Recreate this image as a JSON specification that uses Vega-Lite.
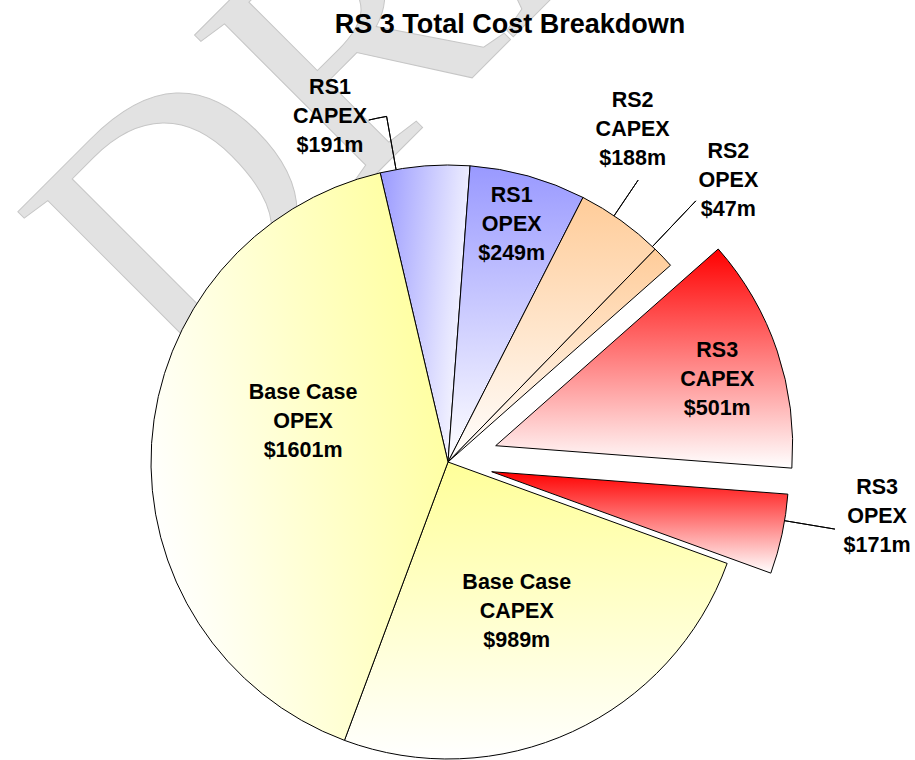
{
  "$schema": "https://vega.github.io/schema/vega-lite/v6.json",
  "width": 896,
  "height": 596,
  "autosize": {"type": "none"},
  "padding": {"left": 0, "top": 164, "right": 19, "bottom": 0},
  "background": "white",
  "config": {"view": {"stroke": null}},
  "data": {
    "values": [
      {"order": 1, "category": "RS1 CAPEX", "value": 191, "label": "RS1\nCAPEX\n$191m"},
      {"order": 2, "category": "RS1 OPEX", "value": 249, "label": "RS1\nOPEX\n$249m"},
      {"order": 3, "category": "RS2 CAPEX", "value": 188, "label": "RS2\nCAPEX\n$188m"},
      {"order": 4, "category": "RS2 OPEX", "value": 47, "label": "RS2\nOPEX\n$47m"},
      {"order": 5, "category": "RS3 CAPEX", "value": 501, "label": "RS3\nCAPEX\n$501m"},
      {"order": 6, "category": "RS3 OPEX", "value": 171, "label": "RS3\nOPEX\n$171m"},
      {"order": 7, "category": "Base Case CAPEX", "value": 989, "label": "Base Case\nCAPEX\n$989m"},
      {"order": 8, "category": "Base Case OPEX", "value": 1601, "label": "Base Case\nOPEX\n$1601m"}
    ]
  },
  "layer": [
    {
      "data": {"values": [{"watermark": "DRAFT"}]},
      "mark": {"type": "text", "font": "Liberation Serif", "fontSize": 346, "angle": 315, "align": "left", "baseline": "alphabetic", "fill": "#e2e2e2", "stroke": "#c6c6c6", "strokeWidth": 1, "xOffset": -277, "yOffset": -83},
      "encoding": {"text": {"field": "watermark", "type": "nominal"}}
    },
    {
      "transform": [{"stack": "value", "groupby": [], "sort": [{"field": "order", "order": "ascending"}], "as": ["t0", "t1"]}, {"filter": "datum.category === 'RS1 CAPEX'"}],
      "mark": {"type": "arc", "radius": 297, "stroke": "#000000", "strokeWidth": 1, "fill": {"gradient": "linear", "x1": 0, "y1": 0, "x2": 1, "y2": 0.3, "stops": [{"offset": 0, "color": "#9999ff"}, {"offset": 1, "color": "#f4f4ff"}]}},
      "encoding": {"theta": {"field": "t0", "type": "quantitative", "scale": {"type": "linear", "domain": [0, 3937], "range": [-0.2304, 6.0528]}}, "theta2": {"field": "t1"}}
    },
    {
      "transform": [{"stack": "value", "groupby": [], "sort": [{"field": "order", "order": "ascending"}], "as": ["t0", "t1"]}, {"filter": "datum.category === 'RS1 OPEX'"}],
      "mark": {"type": "arc", "radius": 297, "stroke": "#000000", "strokeWidth": 1, "fill": {"gradient": "linear", "x1": 0, "y1": 0, "x2": 0, "y2": 1, "stops": [{"offset": 0, "color": "#9999ff"}, {"offset": 1, "color": "#ffffff"}]}},
      "encoding": {"theta": {"field": "t0", "type": "quantitative", "scale": {"type": "linear", "domain": [0, 3937], "range": [-0.2304, 6.0528]}}, "theta2": {"field": "t1"}}
    },
    {
      "transform": [{"stack": "value", "groupby": [], "sort": [{"field": "order", "order": "ascending"}], "as": ["t0", "t1"]}, {"filter": "datum.category === 'RS2 CAPEX'"}],
      "mark": {"type": "arc", "radius": 297, "stroke": "#000000", "strokeWidth": 1, "fill": {"gradient": "linear", "x1": 0, "y1": 0, "x2": 0, "y2": 1, "stops": [{"offset": 0, "color": "#ffcc99"}, {"offset": 1, "color": "#ffffff"}]}},
      "encoding": {"theta": {"field": "t0", "type": "quantitative", "scale": {"type": "linear", "domain": [0, 3937], "range": [-0.2304, 6.0528]}}, "theta2": {"field": "t1"}}
    },
    {
      "transform": [{"stack": "value", "groupby": [], "sort": [{"field": "order", "order": "ascending"}], "as": ["t0", "t1"]}, {"filter": "datum.category === 'RS2 OPEX'"}],
      "mark": {"type": "arc", "radius": 297, "stroke": "#000000", "strokeWidth": 1, "fill": {"gradient": "linear", "x1": 0, "y1": 0, "x2": 0, "y2": 1, "stops": [{"offset": 0, "color": "#ffcc99"}, {"offset": 1, "color": "#ffffff"}]}},
      "encoding": {"theta": {"field": "t0", "type": "quantitative", "scale": {"type": "linear", "domain": [0, 3937], "range": [-0.2304, 6.0528]}}, "theta2": {"field": "t1"}}
    },
    {
      "transform": [{"stack": "value", "groupby": [], "sort": [{"field": "order", "order": "ascending"}], "as": ["t0", "t1"]}, {"filter": "datum.category === 'RS3 CAPEX'"}],
      "mark": {"type": "arc", "radius": 297, "xOffset": 47.7, "yOffset": -16.3, "stroke": "#000000", "strokeWidth": 1, "fill": {"gradient": "linear", "x1": 0, "y1": 0, "x2": 0, "y2": 1, "stops": [{"offset": 0, "color": "#ff0000"}, {"offset": 1, "color": "#ffffff"}]}},
      "encoding": {"theta": {"field": "t0", "type": "quantitative", "scale": {"type": "linear", "domain": [0, 3937], "range": [-0.2304, 6.0528]}}, "theta2": {"field": "t1"}}
    },
    {
      "transform": [{"stack": "value", "groupby": [], "sort": [{"field": "order", "order": "ascending"}], "as": ["t0", "t1"]}, {"filter": "datum.category === 'RS3 OPEX'"}],
      "mark": {"type": "arc", "radius": 297, "xOffset": 43.7, "yOffset": 9.7, "stroke": "#000000", "strokeWidth": 1, "fill": {"gradient": "linear", "x1": 0, "y1": 0, "x2": 0, "y2": 1, "stops": [{"offset": 0, "color": "#ff0000"}, {"offset": 1, "color": "#ffffff"}]}},
      "encoding": {"theta": {"field": "t0", "type": "quantitative", "scale": {"type": "linear", "domain": [0, 3937], "range": [-0.2304, 6.0528]}}, "theta2": {"field": "t1"}}
    },
    {
      "transform": [{"stack": "value", "groupby": [], "sort": [{"field": "order", "order": "ascending"}], "as": ["t0", "t1"]}, {"filter": "datum.category === 'Base Case CAPEX'"}],
      "mark": {"type": "arc", "radius": 297, "stroke": "#000000", "strokeWidth": 1, "fill": {"gradient": "linear", "x1": 0, "y1": 0, "x2": 0, "y2": 1, "stops": [{"offset": 0, "color": "#ffff99"}, {"offset": 1, "color": "#ffffff"}]}},
      "encoding": {"theta": {"field": "t0", "type": "quantitative", "scale": {"type": "linear", "domain": [0, 3937], "range": [-0.2304, 6.0528]}}, "theta2": {"field": "t1"}}
    },
    {
      "transform": [{"stack": "value", "groupby": [], "sort": [{"field": "order", "order": "ascending"}], "as": ["t0", "t1"]}, {"filter": "datum.category === 'Base Case OPEX'"}],
      "mark": {"type": "arc", "radius": 297, "stroke": "#000000", "strokeWidth": 1, "fill": {"gradient": "linear", "x1": 1, "y1": 0.2, "x2": 0, "y2": 0.6, "stops": [{"offset": 0, "color": "#ffff99"}, {"offset": 1, "color": "#ffffff"}]}},
      "encoding": {"theta": {"field": "t0", "type": "quantitative", "scale": {"type": "linear", "domain": [0, 3937], "range": [-0.2304, 6.0528]}}, "theta2": {"field": "t1"}}
    },
    {
      "transform": [{"stack": "value", "groupby": [], "sort": [{"field": "order", "order": "ascending"}], "as": ["t0", "t1"]}, {"filter": "datum.category === 'RS1 CAPEX'"}],
      "mark": {"type": "arc", "radius": 351, "radius2": 297, "thetaOffset": 0.0546, "theta2Offset": 0.0546, "stroke": "#000000", "strokeWidth": 1, "fill": null},
      "encoding": {"theta": {"field": "t0", "type": "quantitative", "scale": {"type": "linear", "domain": [0, 3937], "range": [-0.2304, 6.0528]}}, "theta2": {"field": "t0"}}
    },
    {
      "transform": [{"stack": "value", "groupby": [], "sort": [{"field": "order", "order": "ascending"}], "as": ["t0", "t1"]}, {"filter": "datum.category === 'RS1 CAPEX'"}],
      "mark": {"type": "arc", "radius": 351, "radius2": 351, "thetaOffset": 0.0026, "theta2Offset": 0.0546, "stroke": "#000000", "strokeWidth": 1, "fill": null},
      "encoding": {"theta": {"field": "t0", "type": "quantitative", "scale": {"type": "linear", "domain": [0, 3937], "range": [-0.2304, 6.0528]}}, "theta2": {"field": "t0"}}
    },
    {
      "transform": [{"stack": "value", "groupby": [], "sort": [{"field": "order", "order": "ascending"}], "as": ["t0", "t1"]}, {"filter": "datum.category === 'RS2 CAPEX'"}],
      "mark": {"type": "arc", "radius": 340, "radius2": 297, "thetaOffset": 0.1216, "theta2Offset": 0.1216, "stroke": "#000000", "strokeWidth": 1, "fill": null},
      "encoding": {"theta": {"field": "t0", "type": "quantitative", "scale": {"type": "linear", "domain": [0, 3937], "range": [-0.2304, 6.0528]}}, "theta2": {"field": "t0"}}
    },
    {
      "transform": [{"stack": "value", "groupby": [], "sort": [{"field": "order", "order": "ascending"}], "as": ["t0", "t1"]}, {"filter": "datum.category === 'RS2 OPEX'"}],
      "mark": {"type": "arc", "radius": 360, "radius2": 297, "thetaOffset": -0.0126, "theta2Offset": -0.0126, "stroke": "#000000", "strokeWidth": 1, "fill": null},
      "encoding": {"theta": {"field": "t0", "type": "quantitative", "scale": {"type": "linear", "domain": [0, 3937], "range": [-0.2304, 6.0528]}}, "theta2": {"field": "t0"}}
    },
    {
      "transform": [{"stack": "value", "groupby": [], "sort": [{"field": "order", "order": "ascending"}], "as": ["t0", "t1"]}, {"filter": "datum.category === 'RS3 OPEX'"}],
      "mark": {"type": "arc", "radius": 348, "radius2": 297, "xOffset": 43.7, "yOffset": 9.7, "thetaOffset": 0.0901, "theta2Offset": 0.0901, "stroke": "#000000", "strokeWidth": 1, "fill": null},
      "encoding": {"theta": {"field": "t0", "type": "quantitative", "scale": {"type": "linear", "domain": [0, 3937], "range": [-0.2304, 6.0528]}}, "theta2": {"field": "t0"}}
    },
    {
      "mark": {"type": "text", "radius": 352.9, "xOffset": -90.5, "yOffset": -21.9, "font": "Liberation Sans", "fontSize": 21.5, "fontWeight": "bold", "lineBreak": "\n", "lineHeight": 29, "align": "center", "baseline": "middle", "color": "#000000"},
      "encoding": {"theta": {"field": "value", "type": "quantitative", "stack": true, "scale": {"type": "linear", "domain": [0, 3937], "range": [-0.2304, 6.0528]}}, "order": {"field": "order", "type": "quantitative"}, "text": {"condition": {"test": "datum.category === 'RS1 CAPEX'", "field": "label", "type": "nominal"}, "value": ""}}
    },
    {
      "mark": {"type": "text", "radius": 245.4, "xOffset": -2.5, "yOffset": -29.7, "font": "Liberation Sans", "fontSize": 21.5, "fontWeight": "bold", "lineBreak": "\n", "lineHeight": 29, "align": "center", "baseline": "middle", "color": "#000000"},
      "encoding": {"theta": {"field": "value", "type": "quantitative", "stack": true, "scale": {"type": "linear", "domain": [0, 3937], "range": [-0.2304, 6.0528]}}, "order": {"field": "order", "type": "quantitative"}, "text": {"condition": {"test": "datum.category === 'RS1 OPEX'", "field": "label", "type": "nominal"}, "value": ""}}
    },
    {
      "mark": {"type": "text", "radius": 377.4, "xOffset": -35.2, "yOffset": -54.3, "font": "Liberation Sans", "fontSize": 21.5, "fontWeight": "bold", "lineBreak": "\n", "lineHeight": 29, "align": "center", "baseline": "middle", "color": "#000000"},
      "encoding": {"theta": {"field": "value", "type": "quantitative", "stack": true, "scale": {"type": "linear", "domain": [0, 3937], "range": [-0.2304, 6.0528]}}, "order": {"field": "order", "type": "quantitative"}, "text": {"condition": {"test": "datum.category === 'RS2 CAPEX'", "field": "label", "type": "nominal"}, "value": ""}}
    },
    {
      "mark": {"type": "text", "radius": 397, "xOffset": -7, "yOffset": -36.4, "font": "Liberation Sans", "fontSize": 21.5, "fontWeight": "bold", "lineBreak": "\n", "lineHeight": 29, "align": "center", "baseline": "middle", "color": "#000000"},
      "encoding": {"theta": {"field": "value", "type": "quantitative", "stack": true, "scale": {"type": "linear", "domain": [0, 3937], "range": [-0.2304, 6.0528]}}, "order": {"field": "order", "type": "quantitative"}, "text": {"condition": {"test": "datum.category === 'RS2 OPEX'", "field": "label", "type": "nominal"}, "value": ""}}
    },
    {
      "mark": {"type": "text", "radius": 281.4, "xOffset": 2.5, "yOffset": -21.4, "font": "Liberation Sans", "fontSize": 21.5, "fontWeight": "bold", "lineBreak": "\n", "lineHeight": 29, "align": "center", "baseline": "middle", "color": "#000000"},
      "encoding": {"theta": {"field": "value", "type": "quantitative", "stack": true, "scale": {"type": "linear", "domain": [0, 3937], "range": [-0.2304, 6.0528]}}, "order": {"field": "order", "type": "quantitative"}, "text": {"condition": {"test": "datum.category === 'RS3 CAPEX'", "field": "label", "type": "nominal"}, "value": ""}}
    },
    {
      "mark": {"type": "text", "radius": 431, "xOffset": 7.7, "yOffset": -64.7, "font": "Liberation Sans", "fontSize": 21.5, "fontWeight": "bold", "lineBreak": "\n", "lineHeight": 29, "align": "center", "baseline": "middle", "color": "#000000"},
      "encoding": {"theta": {"field": "value", "type": "quantitative", "stack": true, "scale": {"type": "linear", "domain": [0, 3937], "range": [-0.2304, 6.0528]}}, "order": {"field": "order", "type": "quantitative"}, "text": {"condition": {"test": "datum.category === 'RS3 OPEX'", "field": "label", "type": "nominal"}, "value": ""}}
    },
    {
      "mark": {"type": "text", "radius": 165, "xOffset": -0.5, "yOffset": -29, "font": "Liberation Sans", "fontSize": 21.5, "fontWeight": "bold", "lineBreak": "\n", "lineHeight": 29, "align": "center", "baseline": "middle", "color": "#000000"},
      "encoding": {"theta": {"field": "value", "type": "quantitative", "stack": true, "scale": {"type": "linear", "domain": [0, 3937], "range": [-0.2304, 6.0528]}}, "order": {"field": "order", "type": "quantitative"}, "text": {"condition": {"test": "datum.category === 'Base Case CAPEX'", "field": "label", "type": "nominal"}, "value": ""}}
    },
    {
      "mark": {"type": "text", "radius": 147.2, "xOffset": 2, "yOffset": -60, "font": "Liberation Sans", "fontSize": 21.5, "fontWeight": "bold", "lineBreak": "\n", "lineHeight": 29, "align": "center", "baseline": "middle", "color": "#000000"},
      "encoding": {"theta": {"field": "value", "type": "quantitative", "stack": true, "scale": {"type": "linear", "domain": [0, 3937], "range": [-0.2304, 6.0528]}}, "order": {"field": "order", "type": "quantitative"}, "text": {"condition": {"test": "datum.category === 'Base Case OPEX'", "field": "label", "type": "nominal"}, "value": ""}}
    },
    {
      "data": {"values": [{"title": "RS 3 Total Cost Breakdown"}]},
      "mark": {"type": "text", "font": "Liberation Sans", "fontSize": 27, "fontWeight": "bold", "color": "#000000", "align": "center", "baseline": "alphabetic", "xOffset": 62, "yOffset": -429.5},
      "encoding": {"text": {"field": "title", "type": "nominal"}}
    }
  ]
}
